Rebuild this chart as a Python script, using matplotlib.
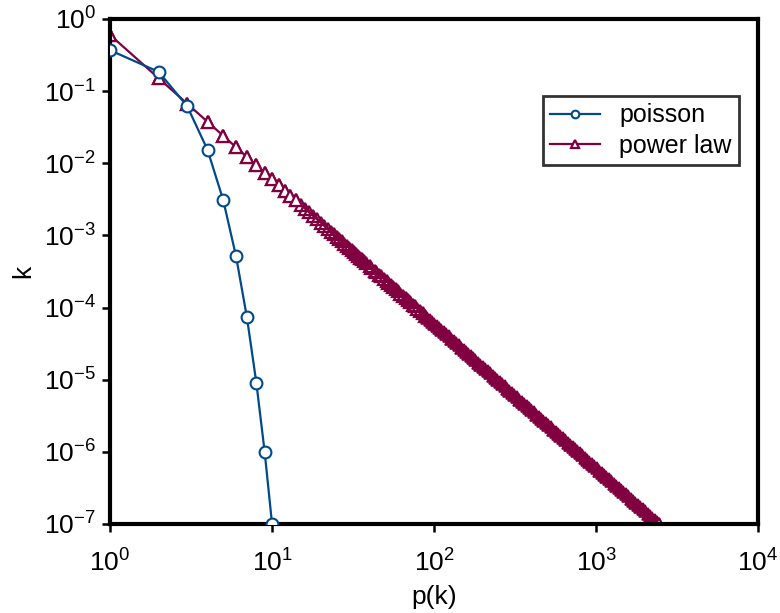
import matplotlib
matplotlib.use('Agg')
import matplotlib.pyplot as plt
from matplotlib.ticker import LogLocator, NullLocator

plt.rcParams['font.family'] = ['Liberation Sans', 'DejaVu Sans']
plt.rcParams['mathtext.default'] = 'regular'

# poisson distribution
poisson_k = [1, 2, 3, 4, 5, 6, 7, 8, 9, 10]
poisson_p = [0.368, 0.184, 0.0613, 0.0153, 0.00307, 0.000511,
             7.3e-5, 9.12e-6, 1.01e-6, 1.01e-7]

# power law distribution
power_k = [1, 2, 3, 4, 5, 6, 7, 8, 9, 10, 11, 12, 13, 14, 15, 16, 17, 18, 19, 20,
           21, 22, 23, 24, 25, 26, 27, 28, 29, 30, 31, 32, 33, 34, 35, 36, 37, 38,
           40, 41, 43, 44, 46, 47, 49, 51, 52, 54, 56, 58, 60, 62, 64, 67, 69, 71,
           74, 76, 79, 82, 85, 88, 91, 94, 97, 100, 104, 108, 111, 115, 119, 123,
           128, 132, 137, 142, 147, 152, 157, 163, 168, 174, 180, 187, 193, 200,
           207, 214, 222, 230, 238, 246, 255, 264, 273, 282, 292, 303, 313, 324,
           336, 347, 359, 372, 385, 399, 413, 427, 442, 457, 473, 490, 507, 525,
           543, 562, 582, 602, 623, 645, 668, 691, 715, 740, 766, 793, 821, 850,
           879, 910, 942, 975, 1009, 1044, 1081, 1119, 1158, 1198, 1240, 1284,
           1329, 1375, 1423, 1473, 1525, 1578, 1633, 1690, 1750, 1811, 1874, 1940,
           2008, 2078, 2151, 2226, 2304, 2385, 2445]
power_p = [0.6, 0.15, 0.0667, 0.0375, 0.024, 0.0167, 0.01224, 0.009375, 0.00741, 0.006,
           0.00496, 0.00417, 0.00355, 0.00306, 0.00267, 0.00234, 0.00208, 0.00185, 0.00166, 0.0015,
           0.00136, 0.00124, 0.00113, 0.00104, 0.00096, 0.000888, 0.000823, 0.000765, 0.000713,
           0.000667, 6.24e-4, 5.86e-4, 5.51e-4, 5.19e-4, 4.90e-4, 4.63e-4, 4.38e-4, 4.16e-4,
           3.75e-4, 3.57e-4, 3.24e-4, 3.10e-4, 2.84e-4, 2.72e-4, 2.50e-4, 2.31e-4, 2.22e-4,
           2.06e-4, 1.91e-4, 1.78e-4, 1.67e-4, 1.56e-4, 1.46e-4, 1.34e-4, 1.26e-4, 1.19e-4,
           1.10e-4, 1.04e-4, 9.61e-5, 8.92e-5, 8.30e-5, 7.75e-5, 7.25e-5, 6.79e-5, 6.38e-5,
           6.00e-5, 5.55e-5, 5.14e-5, 4.87e-5, 4.54e-5, 4.24e-5, 3.97e-5,
           3.66e-5, 3.44e-5, 3.20e-5, 2.98e-5, 2.78e-5, 2.60e-5, 2.43e-5, 2.26e-5, 2.13e-5,
           1.98e-5, 1.85e-5, 1.72e-5, 1.61e-5, 1.50e-5,
           1.40e-5, 1.31e-5, 1.22e-5, 1.13e-5, 1.06e-5, 9.91e-6, 9.23e-6, 8.61e-6, 8.05e-6,
           7.54e-6, 7.04e-6, 6.54e-6, 6.12e-6, 5.72e-6,
           5.31e-6, 4.98e-6, 4.66e-6, 4.34e-6, 4.05e-6, 3.77e-6, 3.52e-6, 3.29e-6, 3.07e-6,
           2.87e-6, 2.68e-6, 2.50e-6, 2.33e-6, 2.18e-6,
           2.03e-6, 1.90e-6, 1.77e-6, 1.66e-6, 1.55e-6, 1.44e-6, 1.34e-6, 1.26e-6, 1.17e-6,
           1.10e-6, 1.02e-6, 9.54e-7, 8.90e-7, 8.30e-7,
           7.77e-7, 7.25e-7, 6.76e-7, 6.31e-7, 5.89e-7, 5.50e-7, 5.13e-7, 4.79e-7, 4.47e-7,
           4.18e-7, 3.90e-7, 3.64e-7,
           3.40e-7, 3.17e-7, 2.96e-7, 2.77e-7, 2.58e-7, 2.41e-7, 2.25e-7, 2.10e-7, 1.96e-7,
           1.83e-7, 1.71e-7, 1.59e-7,
           1.49e-7, 1.39e-7, 1.30e-7, 1.21e-7, 1.13e-7, 1.05e-7, 1.00e-7]

blue = '#004a8c'
maroon = '#800040'
# marker overlap grows with k: white-filled at first, outlines, then a solid band
n_white = 14
n_outline = 62

fig = plt.figure(figsize=(7.8, 6.13), dpi=100)
ax = fig.add_axes([0.141, 0.1452, 0.831, 0.824])

ax.plot(power_k, power_p, color=maroon, lw=1.6, label='power law', zorder=2,
        marker='^', ms=9, mfc='none', mec=maroon, mew=1.6, markevery=slice(0, n_outline))
ax.plot(power_k[n_outline - 1:], power_p[n_outline - 1:], ls='none', marker='^', ms=9,
        mfc=maroon, mec=maroon, mew=1.2, zorder=2)
ax.plot(power_k[:n_white], power_p[:n_white], ls='none', marker='^', ms=9,
        mfc='white', mec=maroon, mew=1.6, zorder=2)
ax.plot(power_k[-1:], power_p[-1:], ls='none', marker='^', ms=9,
        mfc='white', mec=maroon, mew=1.6, zorder=2)
ax.plot(poisson_k, poisson_p, color=blue, lw=1.6, marker='o', ms=8.5,
        mfc='white', mec=blue, mew=1.5, label='poisson', zorder=3)

ax.set_xscale('log')
ax.set_yscale('log')
ax.set_xlim(1, 1e4)
ax.set_ylim(1e-7, 1)
ax.xaxis.set_major_locator(LogLocator(base=10, numticks=10))
ax.yaxis.set_major_locator(LogLocator(base=10, numticks=10))
ax.xaxis.set_minor_locator(NullLocator())
ax.yaxis.set_minor_locator(NullLocator())

for s in ax.spines.values():
    s.set_linewidth(3)
ax.tick_params(which='major', direction='out', length=6, width=1.8,
               labelsize=19)
ax.tick_params(axis='x', pad=12)
ax.tick_params(axis='y', pad=4)

ax.set_xlabel('p(k)', fontsize=19, labelpad=6)
ax.set_ylabel('k', fontsize=19, labelpad=6)

handles, labels = ax.get_legend_handles_labels()
leg = ax.legend(handles[::-1], labels[::-1], loc='upper left',
                bbox_to_anchor=(0.668, 0.8475), borderaxespad=0, fontsize=18,
                frameon=True, fancybox=False, handlelength=2.0, markerscale=0.65,
                borderpad=0.3, labelspacing=0.25, handletextpad=0.75)
leg.get_frame().set_edgecolor('black')
leg.get_frame().set_linewidth(2)
for h in leg.legend_handles:
    h.set_markerfacecolor('white')

fig.savefig('out.png', dpi=100)
